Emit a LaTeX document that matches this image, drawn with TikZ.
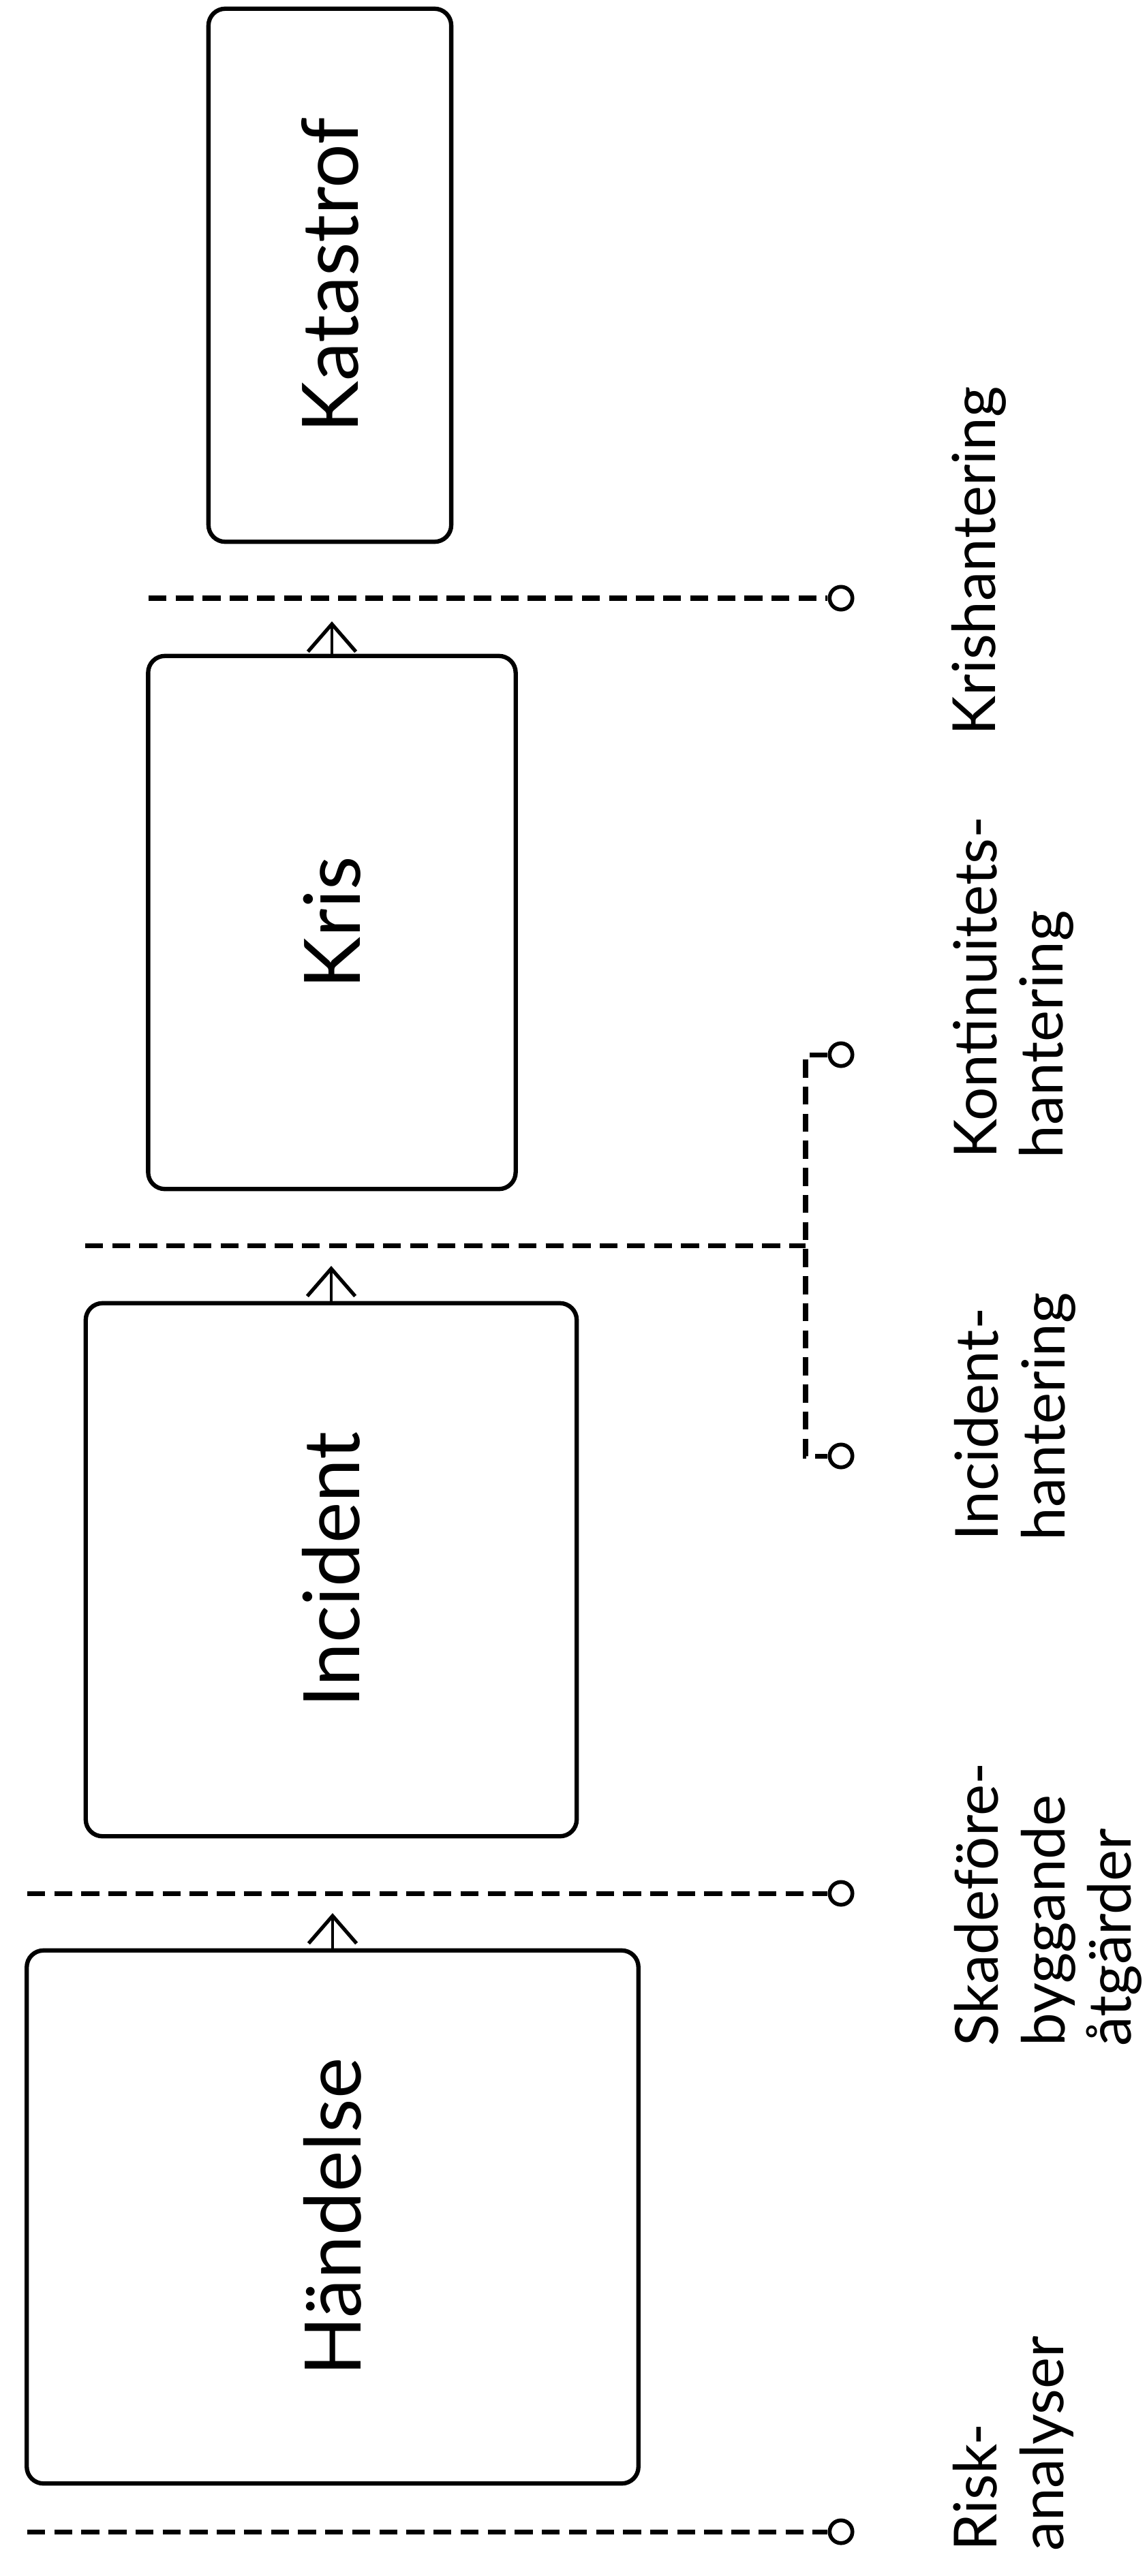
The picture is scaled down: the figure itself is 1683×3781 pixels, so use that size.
\documentclass[tikz,border=0pt]{standalone}
\usepackage{fontspec}
\usepackage{graphicx}
\setmainfont{Lato}
\usetikzlibrary{arrows.meta}
\begin{document}
\begin{tikzpicture}[x=0.01cm,y=-0.01cm,
  box/.style={draw, line width=1.8pt, rounded corners=7pt, inner sep=0pt,
    minimum height=7.82cm, font=\fontsize{32.5}{38}\selectfont},
  dline/.style={line width=2pt, dash pattern=on 7.5pt off 3.8pt},
  endc/.style={circle, draw, line width=1.6pt, minimum size=9.5pt, inner sep=0pt},
  upar/.style={-{Straight Barb[length=11.5pt,width=20pt,line width=1.5pt]}, line width=1.2pt},
  lab/.style={rotate=90, anchor=north west, inner sep=0pt, align=left,
    font=\fontsize{24.8}{27.6}\selectfont}]
\useasboundingbox (0,0) rectangle (1683,3781);

% boxes
\node[box, minimum width=8.97cm] (handelse) at (488,3254) {\rotatebox{90}{Händelse}};
\node[box, minimum width=7.20cm] (incident) at (486,2304) {\rotatebox{90}{Incident}};
\node[box, minimum width=5.39cm] (kris) at (487,1354) {\rotatebox{90}{Kris}};
\node[box, minimum width=3.56cm] (katastrof) at (484,404) {\rotatebox{90}{Katastrof}};

% end circles
\node[endc] (cRisk) at (1234,3716) {};
\node[endc] (cSkade) at (1234,2779) {};
\node[endc] (cInc) at (1234,2137) {};
\node[endc] (cKont) at (1234,1548) {};
\node[endc] (cKris) at (1234,878) {};

% left ends and joints
\coordinate (lRisk) at (40,3716);
\coordinate (lSkade) at (40,2779);
\coordinate (lInc) at (125,1828);
\coordinate (lKris) at (218,878);
\coordinate (jInc) at (1182,1828);
\coordinate (bTop) at (1182,1548);
\coordinate (bBot) at (1182,2137);

% dashed lines
\draw[dline] (lRisk) -- (cRisk);
\draw[dline] (lSkade) -- (cSkade);
\draw[dline] (lInc) -- (jInc);
\draw[dline] (cKont) -- (bTop) -- (bBot) -- (cInc);
\draw[dline] (lKris) -- (cKris);

% arrows
\coordinate (aH) at (488,2808);
\coordinate (aI) at (486,1858);
\coordinate (aK) at (487,912);
\draw[upar] (handelse.north) -- (aH);
\draw[upar] (incident.north) -- (aI);
\draw[upar] (kris.north) -- (aK);

% labels
\node[lab] (tRisk) at (1398,3745) {Risk-\\analyser};
\node[lab] (tSkade) at (1400,3004) {Skadeföre-\\byggande\\åtgärder};
\node[lab] (tInc) at (1400,2262) {Incident-\\hantering};
\node[lab] (tKont) at (1398,1701) {Kontinuitets-\\hantering};
\node[lab] (tKris) at (1396,1080) {Krishantering};
\end{tikzpicture}
\end{document}
